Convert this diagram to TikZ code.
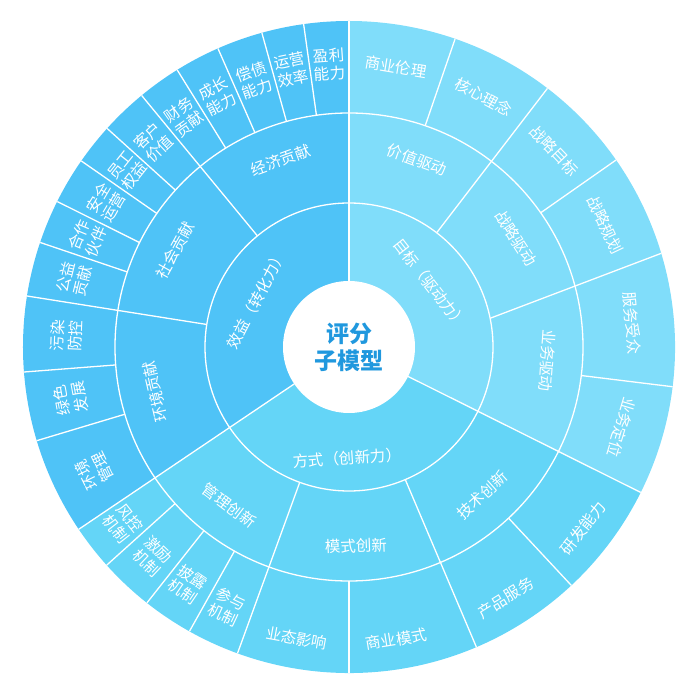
\documentclass[tikz,border=0pt]{standalone}
\usepackage{fontspec}
\setmainfont{Noto Sans CJK SC}
\definecolor{xiaoyi}{RGB}{79,195,247}
\definecolor{fangshi}{RGB}{100,213,247}
\definecolor{mubiao}{RGB}{128,221,250}
\definecolor{hubtext}{RGB}{32,152,222}

\begin{document}
\begin{tikzpicture}[x=1pt,y=1pt,
	sep/.style={white,line width=1.3pt},
	lbl/.style={text=white,inner sep=0pt,align=center,font=\fontsize{15.5}{18}\selectfont},
	hub/.style={circle,fill=white,inner sep=0pt,minimum size=132pt,align=center,text=hubtext,font=\fontsize{23}{27}\selectfont\bfseries}]
	\useasboundingbox (-349,-353) rectangle (345,347);

	% three main sectors
	\fill[xiaoyi] (0,0) -- (90:326) arc[start angle=90,end angle=214,radius=326] -- cycle;
	\fill[fangshi] (0,0) -- (214:326) arc[start angle=214,end angle=333.5,radius=326] -- cycle;
	\fill[mubiao] (0,0) -- (333.5:326) arc[start angle=333.5,end angle=450,radius=326] -- cycle;

	% rings and spokes
	\draw[sep] (0,0) circle[radius=144] (0,0) circle[radius=234];
	\foreach \a in {90,214,333.5}
		\draw[sep] (\a:66) -- (\a:326);
	\foreach \a in {129.5,171,250,293,52.5}
		\draw[sep] (\a:144) -- (\a:326);
	\draw[sep] (11.5:144) -- (16.7:326);
	\foreach \a in {98,105.5,113.7,121.8,137.9,145.2,153.5,161.3,184.4,196.7,222,231.7,240.7,270,313,35,71,-7}
		\draw[sep] (\a:234) -- (\a:326);

	\node[hub] (hub) at (0,0) {评分\\子模型};

	% inner ring
	\node[lbl,rotate=63] (core1) at (153:104) {效益（转化力）};
	\node[lbl,rotate=-52] (core2) at (38:103) {目标（驱动力）};
	\node[lbl,rotate=4] (core3) at (269:111) {方式（创新力）};

	% middle ring
	\foreach \a/\t [count=\i] in {110/经济贡献,151/社会贡献,193/环境贡献,70/价值驱动,33/战略驱动,-4/业务驱动}
		\node[lbl,rotate=\a-90] (mid\i) at (\a:199) {\t};
	\foreach \a/\t [count=\i] in {233/管理创新,272/模式创新,312/技术创新}
		\node[lbl,rotate=\a+90] (midb\i) at (\a:199) {\t};

	% outer ring
	\foreach \a/\t [count=\i] in {94/{盈利\\能力},101.7/{运营\\效率},109.6/{偿债\\能力},117.7/{成长\\能力},
		125.6/{财务\\贡献},133.7/{客户\\价值},141.5/{员工\\权益},149.3/{安全\\运营},157.4/{合作\\伙伴},
		166.1/{公益\\贡献},177.7/{污染\\防控},190.5/{绿色\\发展},206/{环境\\管理}}
		\node[lbl,rotate=\a-90] (leaf\i) at (\a:283) {\t};
	\foreach \a/\t [count=\i] in {80.5/商业伦理,61.7/核心理念,43.7/战略目标,25.5/战略规划,4.8/服务受众,-16.5/业务定位}
		\node[lbl,rotate=\a-90] (leafr\i) at (\a:284) {\t};
	\foreach \a/\t [count=\i] in {218/{风控\\机制},226.8/{激励\\机制},235.8/{披露\\机制},244.9/{参与\\机制}}
		\node[lbl,rotate=\a+90] (leafb\i) at (\a:287) {\t};
	\foreach \a/\t [count=\i] in {259.8/业态影响,279.2/商业模式,302/产品服务,322.3/研发能力}
		\node[lbl,rotate=\a+90] (leafc\i) at (\a:296) {\t};
\end{tikzpicture}
\end{document}
